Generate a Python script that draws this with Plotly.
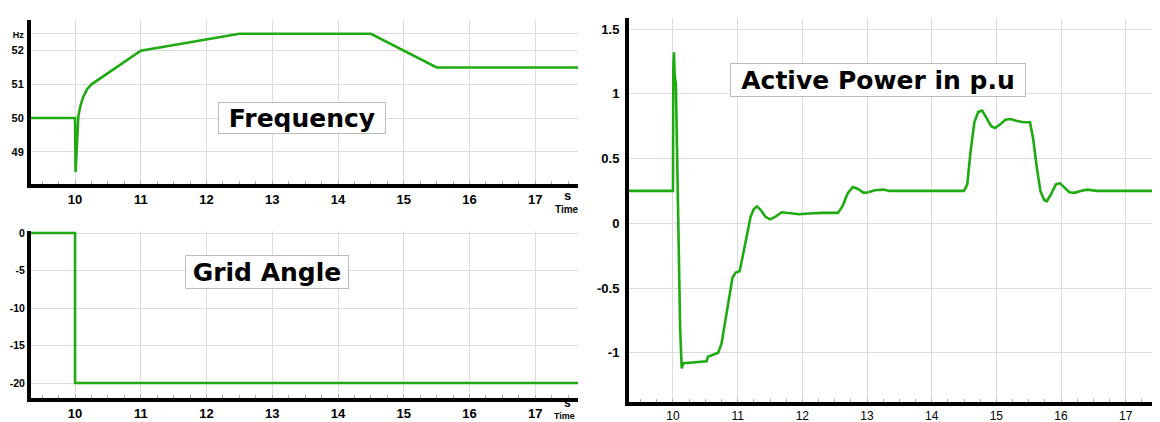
import plotly.graph_objects as go

# ---------------- data ----------------
t_freq = [9.33, 10.0, 10.008, 10.03, 10.05, 10.08, 10.12, 10.18, 10.25, 11.0, 12.5, 14.5, 15.5, 17.65]
freq = [50.0, 50.0, 48.4, 49.5, 50.05, 50.35, 50.6, 50.85, 51.0, 52.0, 52.5, 52.5, 51.5, 51.5]

t_angle = [9.33, 10.0, 10.0, 17.65]
angle = [0.0, 0.0, -20.0, -20.0]

t_power = [9.32, 10.0, 10.005, 10.015, 10.025, 10.035, 10.045, 10.055, 10.07, 10.09, 10.11, 10.135,
           10.16, 10.3, 10.52, 10.54, 10.6, 10.7, 10.75, 10.8, 10.86, 10.92, 10.97, 11.03, 11.08,
           11.14, 11.2, 11.25, 11.3, 11.36, 11.43, 11.5, 11.58, 11.68, 11.8, 11.95, 12.1, 12.3,
           12.55, 12.62, 12.7, 12.78, 12.86, 12.95, 13.02, 13.12, 13.25, 13.35, 14.5, 14.55, 14.6,
           14.66, 14.72, 14.78, 14.84, 14.92, 14.98, 15.05, 15.14, 15.22, 15.32, 15.42, 15.52,
           15.57, 15.62, 15.68, 15.74, 15.78, 15.84, 15.92, 15.98, 16.05, 16.13, 16.21, 16.3,
           16.41, 16.55, 16.7, 17.53]
power = [0.25, 0.25, 1.2, 1.32, 1.15, 1.1, 1.07, 0.78, 0.3, -0.3, -0.8, -1.12,
         -1.08, -1.075, -1.065, -1.03, -1.02, -1.0, -0.93, -0.78, -0.58, -0.42, -0.38, -0.37, -0.25,
         -0.1, 0.05, 0.11, 0.13, 0.1, 0.05, 0.03, 0.05, 0.085, 0.08, 0.07, 0.075, 0.08,
         0.08, 0.13, 0.23, 0.28, 0.265, 0.235, 0.24, 0.255, 0.26, 0.25, 0.25, 0.3, 0.55,
         0.78, 0.86, 0.87, 0.82, 0.75, 0.735, 0.76, 0.8, 0.805, 0.79, 0.78, 0.78,
         0.65, 0.45, 0.25, 0.18, 0.17, 0.22, 0.3, 0.31, 0.28, 0.24, 0.235, 0.25,
         0.26, 0.25, 0.25, 0.25]

x_ticks = [10, 11, 12, 13, 14, 15, 16, 17]
x_ticktext = ["10", "11", "12", "13", "14", "15", "16", "17"]
freq_ticks = [49, 50, 51, 52, 52.5]
freq_ticktext = ["49", "50", "51", "52", "Hz"]
angle_ticks = [0, -5, -10, -15, -20]
angle_ticktext = ["0", "-5", "-10", "-15", "-20"]
power_ticks = [-1, -0.5, 0, 0.5, 1, 1.5]
power_ticktext = ["-1", "-0.5", "0", "0.5", "1", "1.5"]

# page offset (browser body margin) compensation
OFF = 8
W, H = 1160 - OFF, 422 - OFF
GREEN = "#1faa12"
GRID = "#dcdcdc"
FONT = "Liberation Sans"


def px_x(p):
    return (p - OFF) / W


def px_y(p):
    return 1 - (p - OFF) / H


def bold(labels):
    return ["<b>%s</b>" % s for s in labels]


fig = go.Figure()
fig.add_trace(go.Scatter(x=t_freq, y=freq, mode="lines", line=dict(color=GREEN, width=2.6),
                         xaxis="x", yaxis="y", showlegend=False))
fig.add_trace(go.Scatter(x=t_angle, y=angle, mode="lines", line=dict(color=GREEN, width=2.6),
                         xaxis="x2", yaxis="y2", showlegend=False))
fig.add_trace(go.Scatter(x=t_power, y=power, mode="lines", line=dict(color=GREEN, width=2.6),
                         xaxis="x3", yaxis="y3", showlegend=False))

tick_font = dict(family=FONT, size=13, color="black")
small_tick_font = dict(family=FONT, size=11, color="black")

common_x = dict(showline=True, linecolor="black", linewidth=4, showgrid=True, gridcolor=GRID,
                gridwidth=1, zeroline=False, tickvals=x_ticks, ticks="", tickfont=tick_font,
                automargin=False,
                minor=dict(ticks="inside", ticklen=3, tickcolor="#aaaaaa", dtick=0.25, tick0=0,
                           showgrid=False))
common_y = dict(showline=True, linecolor="black", linewidth=4, showgrid=True, gridcolor=GRID,
                gridwidth=1, zeroline=False, ticks="", ticklabelstandoff=3, tickfont=tick_font,
                automargin=False)

freq_text = bold(freq_ticktext[:-1]) + ["<b><span style='font-size:9px'>Hz</span></b>"]

fig.update_layout(
    width=W, height=H, margin=dict(l=0, r=0, t=0, b=0, pad=0, autoexpand=False),
    plot_bgcolor="white", paper_bgcolor="white",
    xaxis=dict(common_x, domain=[px_x(31), px_x(578)], range=[9.33, 17.65], anchor="y",
               ticktext=bold(x_ticktext)),
    yaxis=dict(common_y, domain=[px_y(184), px_y(20)], range=[48.04, 52.91], anchor="x",
               tickvals=freq_ticks, ticktext=freq_text, tickfont=small_tick_font,
               ticklabelstandoff=1),
    xaxis2=dict(common_x, domain=[px_x(31), px_x(578)], range=[9.33, 17.65], anchor="y2",
                ticktext=bold(x_ticktext)),
    yaxis2=dict(common_y, domain=[px_y(398), px_y(231)], range=[-22.0, 0.27], anchor="x2",
                tickvals=angle_ticks, ticktext=bold(angle_ticktext),
                tickfont=dict(family=FONT, size=10.5, color="black"), ticklabelstandoff=0),
    xaxis3=dict(common_x, domain=[px_x(629), 1.0], range=[9.32, 17.53], anchor="y3",
                ticktext=x_ticktext, tickfont=dict(family=FONT, size=12, color="black")),
    yaxis3=dict(common_y, domain=[px_y(402), px_y(18)], range=[-1.38, 1.585], anchor="x3",
                tickvals=power_ticks, ticktext=bold(power_ticktext)),
)

title_font = dict(family="DejaVu Sans", size=25, color="black", weight="bold")
boxes = [("Frequency", 302, 118, 164, 28), ("Grid Angle", 267, 272, 160, 30),
         ("Active Power in p.u", 878, 80, 292, 30)]
for txt, cx, cy, w, h in boxes:
    fig.add_annotation(text="<b>%s</b>" % txt, x=px_x(cx), y=px_y(cy), xref="paper", yref="paper",
                       xanchor="center", yanchor="middle", showarrow=False, font=title_font,
                       bgcolor="white", bordercolor="#bbbbbb", borderwidth=1, borderpad=1,
                       width=w, height=h)

small_labels = [("<b>s</b>", 567, 195, 13), ("<b>Time</b>", 567, 210, 10),
                ("<b>s</b>", 567, 403, 12), ("<b>Time</b>", 564, 416, 9),
                ("s", 1155, 411, 13)]
for txt, cx, cy, size in small_labels:
    fig.add_annotation(text=txt, x=px_x(cx), y=px_y(cy), xref="paper", yref="paper",
                       xanchor="center", yanchor="middle", showarrow=False,
                       font=dict(family=FONT, size=size, color="black"))

fig.write_html("out.html")
